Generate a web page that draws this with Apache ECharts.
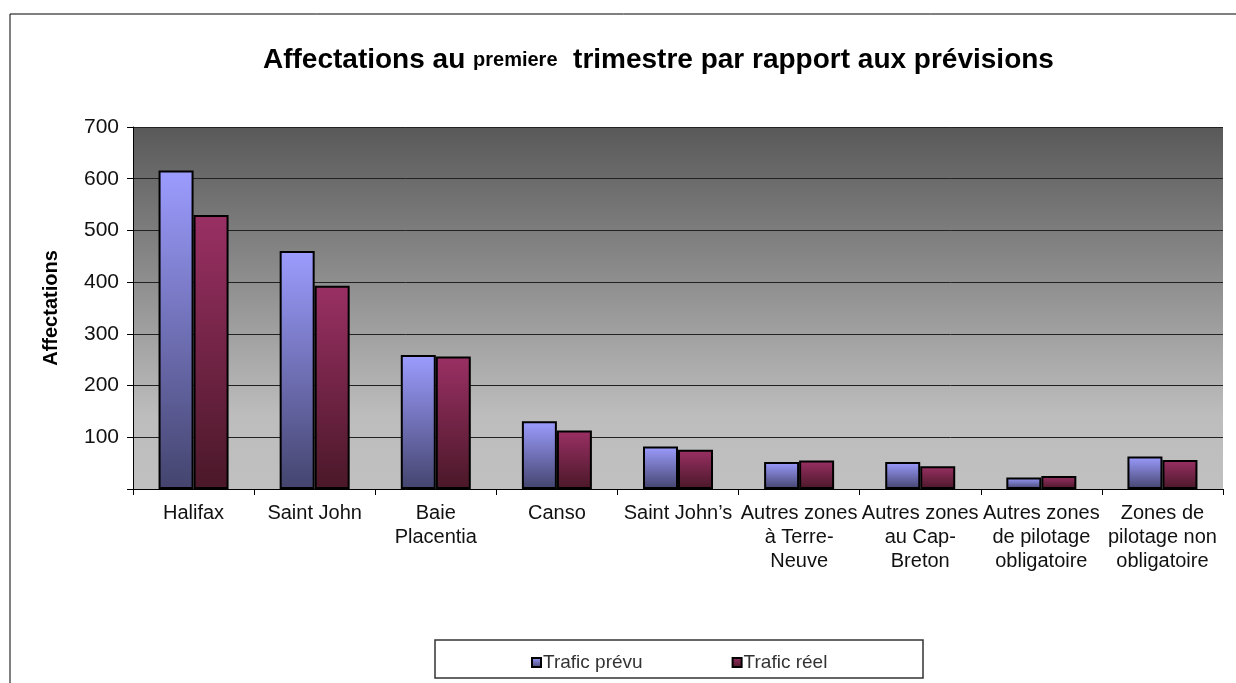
<!DOCTYPE html>
<html>
<head>
<meta charset="utf-8">
<script src="https://cdn.jsdelivr.net/npm/echarts@6/dist/echarts.min.js"></script>
<style>
  html, body { margin: 0; padding: 0; background: #fff; }
  #chart { width: 1236px; height: 683px; }
</style>
</head>
<body>
<div id="chart"></div>
<script>
// valeurs
const categories = [
  'Halifax', 'Saint John', 'Baie\nPlacentia', 'Canso', 'Saint John\u2019s',
  'Autres zones\nà Terre-\nNeuve', 'Autres zones\nau Cap-\nBreton',
  'Autres zones\nde pilotage\nobligatoire', 'Zones de\npilotage non\nobligatoire'
]
const traficPrevu = [616, 460, 259, 131, 82, 52, 52, 22, 63]
const traficReel = [530, 393, 256, 113, 76, 55, 44, 25, 56]
const yTicks = [0, 100, 200, 300, 400, 500, 600, 700]

const font = 'Arial, "Liberation Sans", sans-serif'

function grad(top, bottom) {
  return new echarts.graphic.LinearGradient(0, 0, 0, 1, [
    { offset: 0, color: top },
    { offset: 1, color: bottom }
  ])
}

const chart = echarts.init(document.getElementById('chart'))
chart.setOption({
  animation: false,
  backgroundColor: '#fff',
  textStyle: { fontFamily: font },
  title: {
    text: '{b|Affectations au }{s|premiere}{b|  trimestre par rapport aux prévisions}',
    left: 258,
    top: 41,
    textStyle: {
      rich: {
        b: { fontFamily: font, fontSize: 28, fontWeight: 'bold', color: '#000' },
        s: { fontFamily: font, fontSize: 20, color: '#000' }
      }
    }
  },
  graphic: [
    // cadre extérieur
    { type: 'rect', shape: { x: 10, y: 14, width: 1240, height: 700 },
      style: { fill: 'none', stroke: '#000', lineWidth: 1 }, silent: true, z: -1 },
    // cadre de la légende
    { type: 'rect', shape: { x: 435, y: 640, width: 488, height: 38 },
      style: { fill: '#fff', stroke: '#333', lineWidth: 1.5 }, silent: true, z: 0 }
  ],
  legend: {
    data: ['Trafic prévu', 'Trafic réel'],
    left: 526,
    top: 648,
    itemWidth: 9,
    itemHeight: 9,
    itemGap: 89,
    icon: 'rect',
    z: 5,
    textStyle: { fontFamily: font, fontSize: 19, color: '#333', padding: [0, 0, 0, -3] }
  },
  grid: {
    left: 133,
    right: 13,
    top: 127,
    bottom: 194,
    show: true,
    borderWidth: 0,
    backgroundColor: new echarts.graphic.LinearGradient(0, 0, 0, 1, [
      { offset: 0, color: '#595959' },
      { offset: 0.8, color: '#bdbdbd' },
      { offset: 1, color: '#c0c0c0' }
    ])
  },
  xAxis: {
    type: 'category',
    data: categories,
    axisLine: { lineStyle: { color: '#000', width: 1 } },
    axisTick: { show: true, length: 6, lineStyle: { color: '#000' } },
    axisLabel: {
      fontFamily: font, fontSize: 20, color: '#111', lineHeight: 24,
      margin: 12, interval: 0
    }
  },
  yAxis: {
    type: 'value',
    min: yTicks[0],
    max: yTicks[yTicks.length - 1],
    interval: 100,
    name: 'Affectations',
    nameLocation: 'middle',
    nameGap: 72,
    nameRotate: 90,
    nameTextStyle: { fontFamily: font, fontSize: 20, fontWeight: 'bold', color: '#000' },
    axisLine: { show: true, lineStyle: { color: '#000', width: 1 } },
    axisTick: { show: true, length: 6, lineStyle: { color: '#000' } },
    axisLabel: {
      fontFamily: font, fontSize: 21, color: '#111', margin: 14,
      formatter: v => (v === 0 ? '' : v)
    },
    splitLine: { lineStyle: { color: '#222', width: 1 } }
  },
  series: [
    {
      name: 'Trafic prévu',
      type: 'bar',
      data: traficPrevu,
      barWidth: 35,
      barGap: '0%',
      itemStyle: { color: grad('#9c9cff', '#44446e'), borderColor: '#000', borderWidth: 2 }
    },
    {
      name: 'Trafic réel',
      type: 'bar',
      data: traficReel,
      barWidth: 35,
      barGap: '0%',
      itemStyle: { color: grad('#9a3064', '#4a1828'), borderColor: '#000', borderWidth: 2 }
    }
  ]
})
</script>
</body>
</html>
